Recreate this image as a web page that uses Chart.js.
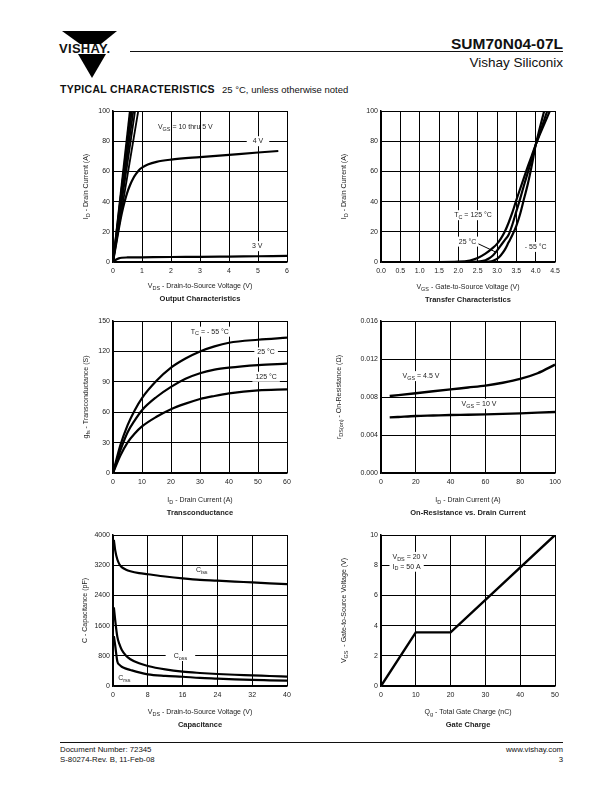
<!DOCTYPE html>
<html>
<head>
<meta charset="utf-8">
<script src="https://cdn.jsdelivr.net/npm/chart.js@4.4.1/dist/chart.umd.min.js"></script>
<style>
body { margin: 0; background: #fff; }
#page { position: relative; width: 612px; height: 792px; overflow: hidden; font-family: "Liberation Sans", Arial, sans-serif; color: #111; }
.t { position: absolute; white-space: nowrap; line-height: 1; }
canvas { position: absolute; }
</style>
</head>
<body>
<div id="page">
  <!-- header -->
  <svg class="t" style="left:56px;top:28px" width="68" height="54">
    <polygon points="6,3 61,3 45,16 24,16" fill="#000"/>
    <polygon points="22,26 50,26 36,50" fill="#000"/>
  </svg>
  <div class="t" style="left:59px;font-weight:bold;font-size:13px;letter-spacing:0.3px;top:42px">VISHAY.</div>
  <div class="t" style="left:130px;top:51px;width:433px;height:1.4px;background:#111"></div>
  <div class="t" style="right:49px;top:36px;font-weight:bold;font-size:15.5px">SUM70N04-07L</div>
  <div class="t" style="right:49px;top:56px;font-size:13.5px">Vishay Siliconix</div>
  <div class="t" style="left:60px;top:84px;font-weight:bold;font-size:10.5px;letter-spacing:0.3px">TYPICAL CHARACTERISTICS</div>
  <div class="t" style="left:222px;top:84.5px;font-size:9.5px">25 °C, unless otherwise noted</div>

  <canvas id="cOut"></canvas>
  <canvas id="cTrans"></canvas>
  <canvas id="cGfs"></canvas>
  <canvas id="cRds"></canvas>
  <canvas id="cCap"></canvas>
  <canvas id="cGate"></canvas>

  <!-- footer -->
  <div class="t" style="left:60px;top:742px;width:503px;height:1px;background:#111"></div>
  <div class="t" style="left:60px;top:746px;font-size:7.8px">Document Number: 72345</div>
  <div class="t" style="left:60px;top:756px;font-size:7.8px">S-80274-Rev. B, 11-Feb-08</div>
  <div class="t" style="right:49px;top:746px;font-size:7.8px">www.vishay.com</div>
  <div class="t" style="right:49px;top:756px;font-size:7.8px">3</div>
</div>

<script>
//// data

// Output characteristics (VDS in V, ID in A)
const outTicksX = ['0', '1', '2', '3', '4', '5', '6'];
const outTicksY = ['0', '20', '40', '60', '80', '100'];
const outHighVgsTopX = [0.58, 0.61, 0.65, 0.70, 0.76, 0.87]; // 10 thru 5 V, VDS where ID hits 100 A
const out4vX = [0, 0.1, 0.2, 0.3, 0.4, 0.5, 0.6, 0.7, 0.8, 0.9, 1.0, 1.2, 1.5, 2, 3, 4, 5, 5.7];
const out4vY = [0, 11, 22, 32, 40, 46.5, 51.5, 55.5, 58.5, 61, 62.5, 64.5, 66.3, 67.8, 69.5, 71, 72.5, 73.5];
const out3vX = [0, 0.1, 0.2, 0.3, 0.5, 1, 2, 3, 4, 5, 6];
const out3vY = [0, 1.5, 2.4, 2.8, 3, 3.1, 3.3, 3.4, 3.6, 3.8, 4];

// Transfer characteristics (VGS in V, ID in A)
const trTicksX = ['0.0', '0.5', '1.0', '1.5', '2.0', '2.5', '3.0', '3.5', '4.0', '4.5'];
const trTicksY = ['0', '20', '40', '60', '80', '100'];
const tr125X = [0, 1.5, 2.0, 2.3, 2.5, 2.7, 2.9, 3.0, 3.1, 3.2, 3.3, 3.4, 3.5, 3.6, 3.7, 3.8, 3.9, 4.0, 4.1, 4.2, 4.3, 4.4];
const tr125Y = [0, 0, 0.2, 1, 2.6, 5.5, 9.5, 12, 15.5, 20, 26, 33, 41, 48.5, 56, 63.5, 70.5, 77.5, 84, 90, 96, 102];
const tr25X = [0, 2.0, 2.5, 2.7, 2.8, 2.9, 3.0, 3.1, 3.2, 3.3, 3.4, 3.5, 3.6, 3.7, 3.8, 3.9, 4.0, 4.1, 4.2, 4.3, 4.4];
const tr25Y = [0, 0, 0.3, 1.2, 2.5, 4.5, 7.5, 11, 14.5, 18, 25, 33.5, 42, 51, 59.5, 68.5, 77.5, 85, 92.5, 100, 107];
const trM55X = [0, 2.5, 2.8, 2.9, 3.0, 3.1, 3.2, 3.3, 3.4, 3.5, 3.6, 3.7, 3.8, 3.9, 4.0, 4.1, 4.2, 4.3];
const trM55Y = [0, 0, 0.3, 0.8, 2, 4.5, 8, 13, 18, 24, 32, 42, 52, 64, 77.5, 88, 98, 108];

// Transconductance (ID in A, gfs in S)
const gfsTicksX = ['0', '10', '20', '30', '40', '50', '60'];
const gfsTicksY = ['0', '30', '60', '90', '120', '150'];
const gfsId = [0, 2.5, 5, 7.5, 10, 15, 20, 25, 30, 35, 40, 50, 60];
const gfsM55 = [0, 27, 47, 62, 74, 91, 104, 113, 120, 125, 128.5, 131.5, 133.5];
const gfs25 = [0, 22, 40, 52, 62, 75, 85, 93, 98.5, 102, 104, 106.5, 108];
const gfs125 = [0, 17, 30, 39, 46, 55.5, 63, 68.5, 73, 76, 78.5, 81.5, 82.5];

// On-resistance vs drain current (ID in A, rDS(on) in ohm)
const rdsTicksX = ['0', '20', '40', '60', '80', '100'];
const rdsTicksY = ['0.000', '0.004', '0.008', '0.012', '0.016'];
const rdsId = [5, 10, 20, 30, 40, 50, 60, 70, 80, 90, 100];
const rds45 = [0.0081, 0.0082, 0.0084, 0.0086, 0.0088, 0.0090, 0.0092, 0.0095, 0.0099, 0.0105, 0.0114];
const rds10 = [0.00585, 0.00590, 0.00600, 0.00605, 0.00610, 0.00613, 0.00617, 0.00622, 0.00628, 0.00635, 0.00642];

// Capacitance (VDS in V, C in pF)
const capTicksX = ['0', '8', '16', '24', '32', '40'];
const capTicksY = ['0', '800', '1600', '2400', '3200', '4000'];
const capV = [0.2, 0.5, 1, 1.5, 2, 3, 4, 6, 8, 12, 16, 20, 24, 28, 32, 36, 40];
const capCiss = [3870, 3600, 3350, 3220, 3150, 3080, 3040, 2990, 2960, 2900, 2850, 2810, 2790, 2765, 2745, 2720, 2700];
const capCoss = [2080, 1750, 1300, 1100, 960, 800, 710, 600, 530, 440, 380, 345, 318, 298, 283, 265, 250];
const capCrss = [1320, 1080, 650, 560, 510, 460, 425, 360, 310, 270, 245, 215, 195, 175, 160, 150, 140];

// Gate charge (Qg in nC, VGS in V)
const gateTicksX = ['0', '10', '20', '30', '40', '50'];
const gateTicksY = ['0', '2', '4', '6', '8', '10'];
const gateQg = [0, 10, 20, 50];
const gateVgs = [0, 3.55, 3.55, 10];


//// helpers
const FONT = '"Liberation Sans", Arial, sans-serif';
const INK = '#222';

function font(size, bold) {
    return (bold ? 'bold ' : '') + size + 'px ' + FONT;
}

// parts: [[text, isSubscript], ...]
function richWidth(ctx, parts, size, bold) {
    let w = 0;
    for (const [s, sub] of parts) {
        ctx.font = font(sub ? size * 0.78 : size, bold);
        w += ctx.measureText(s).width;
    }
    return w;
}

function drawRich(ctx, parts, x, y, size, align, bold) {
    const w = richWidth(ctx, parts, size, bold);
    let cx = align === 'center' ? x - w / 2 : (align === 'right' ? x - w : x);
    ctx.textAlign = 'left';
    ctx.textBaseline = 'middle';
    for (const [s, sub] of parts) {
        ctx.font = font(sub ? size * 0.78 : size, bold);
        ctx.fillText(s, cx, sub ? y + size * 0.32 : y);
        cx += ctx.measureText(s).width;
    }
    return w;
}

// axis titles, caption and in-plot notes
function sheetText(cfg) {
    return {
        id: 'sheetText',
        afterDraw(chart) {
            const ctx = chart.ctx;
            const a = chart.chartArea;
            const xs = chart.scales.x, ys = chart.scales.y;
            ctx.save();
            ctx.fillStyle = INK;
            drawRich(ctx, cfg.xTitle, (a.left + a.right) / 2, a.bottom + cfg.xTitleDy, 7, 'center');
            drawRich(ctx, [[cfg.caption, 0]], (a.left + a.right) / 2, a.bottom + cfg.xTitleDy + 12.5, 7.5, 'center', true);

            ctx.save();
            ctx.translate(a.left - cfg.yTitleDx, (a.top + a.bottom) / 2);
            ctx.rotate(-Math.PI / 2);
            drawRich(ctx, cfg.yTitle, 0, 0, 7, 'center');
            ctx.restore();

            for (const n of cfg.notes || []) {
                const px = xs.getPixelForValue(n.x), py = ys.getPixelForValue(n.y);
                const w = richWidth(ctx, n.t, 7);
                const left = n.align === 'center' ? px - w / 2 : px;
                if (n.bg) {
                    ctx.fillStyle = '#fff';
                    ctx.fillRect(left - (n.padX || 3), py - 5, w + 2 * (n.padX || 3), 10);
                }
                ctx.fillStyle = INK;
                drawRich(ctx, n.t, left, py, 7, 'left');
            }
            for (const l of cfg.leaders || []) {
                ctx.strokeStyle = '#000';
                ctx.lineWidth = 1;
                ctx.beginPath();
                ctx.moveTo(xs.getPixelForValue(l[0]), ys.getPixelForValue(l[1]));
                ctx.lineTo(xs.getPixelForValue(l[2]), ys.getPixelForValue(l[3]));
                ctx.stroke();
            }
            ctx.restore();
        }
    };
}

function series(xs, ys, width) {
    return {
        data: xs.map((x, i) => ({ x: x, y: ys[i] })),
        borderColor: '#000',
        borderWidth: width || 2,
        pointRadius: 0,
        fill: false,
        cubicInterpolationMode: 'monotone'
    };
}

function axis(labels, fit) {
    const vals = labels.map(Number);
    return {
        type: 'linear',
        min: vals[0],
        max: vals[vals.length - 1],
        afterBuildTicks: (s) => { s.ticks = vals.map(v => ({ value: v })); },
        afterFit: fit,
        ticks: {
            autoSkip: false,
            maxRotation: 0,
            font: { family: FONT, size: 7 },
            color: INK,
            callback: (v, i) => labels[i]
        },
        grid: { color: '#000', lineWidth: 1, drawTicks: false },
        border: { color: '#000', width: 1.5 }
    };
}

// plot box: l, t, r, b in page pixels
function makeChart(id, box, xLabels, yLabels, datasets, text) {
    const cv = document.getElementById(id);
    const w = box.r - box.l + 62, h = box.b - box.t + 53;
    cv.width = w; cv.height = h;
    cv.style.left = (box.l - 50) + 'px';
    cv.style.top = (box.t - 8) + 'px';
    cv.style.width = w + 'px';
    cv.style.height = h + 'px';

    const x = axis(xLabels, (s) => { s.height = 45; });
    x.ticks.padding = 5;
    const y = axis(yLabels, (s) => { s.width = 50; });
    y.ticks.padding = 3;

    return new Chart(cv, {
        type: 'line',
        data: { datasets: datasets },
        options: {
            responsive: false,
            maintainAspectRatio: false,
            devicePixelRatio: 1,
            animation: false,
            layout: { padding: { left: 0, right: 12, top: 8, bottom: 0 } },
            scales: { x: x, y: y },
            plugins: { legend: { display: false }, tooltip: { enabled: false } }
        },
        plugins: [sheetText(text)]
    });
}


//// charts
const VDS = [['V', 0], ['DS', 1], [' - Drain-to-Source Voltage (V)', 0]];
const ID = [['I', 0], ['D', 1], [' - Drain Current (A)', 0]];

makeChart('cOut', { l: 113, t: 111, r: 287, b: 262 }, outTicksX, outTicksY, [
    ...outHighVgsTopX.map(v => series([0, v], [0, 100], 1.8)),
    series(out4vX, out4vY, 2.2),
    series(out3vX, out3vY, 2.2)
], {
    xTitle: VDS, yTitle: ID, caption: 'Output Characteristics', xTitleDy: 24, yTitleDx: 27,
    notes: [
        { x: 1.55, y: 89.5, t: [['V', 0], ['GS', 1], [' = 10 thru 5 V', 0]] },
        { x: 5.0, y: 80, t: [['4 V', 0]], align: 'center', bg: true, padX: 6 },
        { x: 4.97, y: 10.5, t: [['3 V', 0]], align: 'center', bg: true, padX: 4 }
    ]
});

makeChart('cTrans', { l: 381, t: 111, r: 555, b: 262 }, trTicksX, trTicksY, [
    series(tr125X, tr125Y, 2.2),
    series(tr25X, tr25Y, 2.2),
    series(trM55X, trM55Y, 2.2)
], {
    xTitle: [['V', 0], ['GS', 1], [' - Gate-to-Source Voltage (V)', 0]], yTitle: ID,
    caption: 'Transfer Characteristics', xTitleDy: 25, yTitleDx: 37,
    notes: [
        { x: 2.38, y: 31, t: [['T', 0], ['C', 1], [' = 125 °C', 0]], align: 'center', bg: true },
        { x: 2.24, y: 13.5, t: [['25 °C', 0]], align: 'center', bg: true },
        { x: 4.0, y: 10, t: [['- 55 °C', 0]], align: 'center', bg: true }
    ],
    leaders: [[2.52, 12, 2.95, 6.8]]
});

makeChart('cGfs', { l: 113, t: 321, r: 287, b: 473 }, gfsTicksX, gfsTicksY, [
    series(gfsId, gfsM55, 2.2),
    series(gfsId, gfs25, 2.2),
    series(gfsId, gfs125, 2.2)
], {
    xTitle: ID, yTitle: [['g', 0], ['fs', 1], [' - Transconductance (S)', 0]],
    caption: 'Transconductance', xTitleDy: 27, yTitleDx: 27,
    notes: [
        { x: 33.4, y: 139.5, t: [['T', 0], ['C', 1], [' = - 55 °C', 0]], align: 'center', bg: true },
        { x: 52.8, y: 119, t: [['25 °C', 0]], align: 'center', bg: true },
        { x: 52.8, y: 95, t: [['125 °C', 0]], align: 'center', bg: true }
    ]
});

makeChart('cRds', { l: 381, t: 321, r: 555, b: 473 }, rdsTicksX, rdsTicksY, [
    series(rdsId, rds45, 2.4),
    series(rdsId, rds10, 2.4)
], {
    xTitle: ID, yTitle: [['r', 0], ['DS(on)', 1], [' - On-Resistance (Ω)', 0]],
    caption: 'On-Resistance vs. Drain Current', xTitleDy: 27, yTitleDx: 42,
    notes: [
        { x: 23, y: 0.0102, t: [['V', 0], ['GS', 1], [' = 4.5 V', 0]], align: 'center', bg: true },
        { x: 56.3, y: 0.00728, t: [['V', 0], ['GS', 1], [' = 10 V', 0]], align: 'center', bg: true }
    ]
});

makeChart('cCap', { l: 113, t: 535, r: 287, b: 686 }, capTicksX, capTicksY, [
    series(capV, capCiss, 2.2),
    series(capV, capCoss, 2.2),
    series(capV, capCrss, 2.2)
], {
    xTitle: VDS, yTitle: [['C - Capacitance (pF)', 0]],
    caption: 'Capacitance', xTitleDy: 26, yTitleDx: 28,
    notes: [
        { x: 20.4, y: 3070, t: [['C', 0], ['iss', 1]], align: 'center' },
        { x: 15.5, y: 795, t: [['C', 0], ['oss', 1]], align: 'center', bg: true, padX: 8 },
        { x: 2.6, y: 215, t: [['C', 0], ['rss', 1]], align: 'center' }
    ]
});

makeChart('cGate', { l: 381, t: 535, r: 555, b: 686 }, gateTicksX, gateTicksY, [
    Object.assign(series(gateQg, gateVgs, 2.4), { cubicInterpolationMode: 'default', tension: 0 })
], {
    xTitle: [['Q', 0], ['g', 1], [' - Total Gate Charge (nC)', 0]],
    yTitle: [['V', 0], ['GS', 1], ['  - Gate-to-Source Voltage (V)', 0]],
    caption: 'Gate Charge', xTitleDy: 26, yTitleDx: 37,
    notes: [
        { x: 3.3, y: 8.55, t: [['V', 0], ['DS', 1], [' = 20 V', 0]], bg: true },
        { x: 3.3, y: 7.9, t: [['I', 0], ['D', 1], [' = 50 A', 0]], bg: true }
    ]
});
</script>
</body>
</html>
